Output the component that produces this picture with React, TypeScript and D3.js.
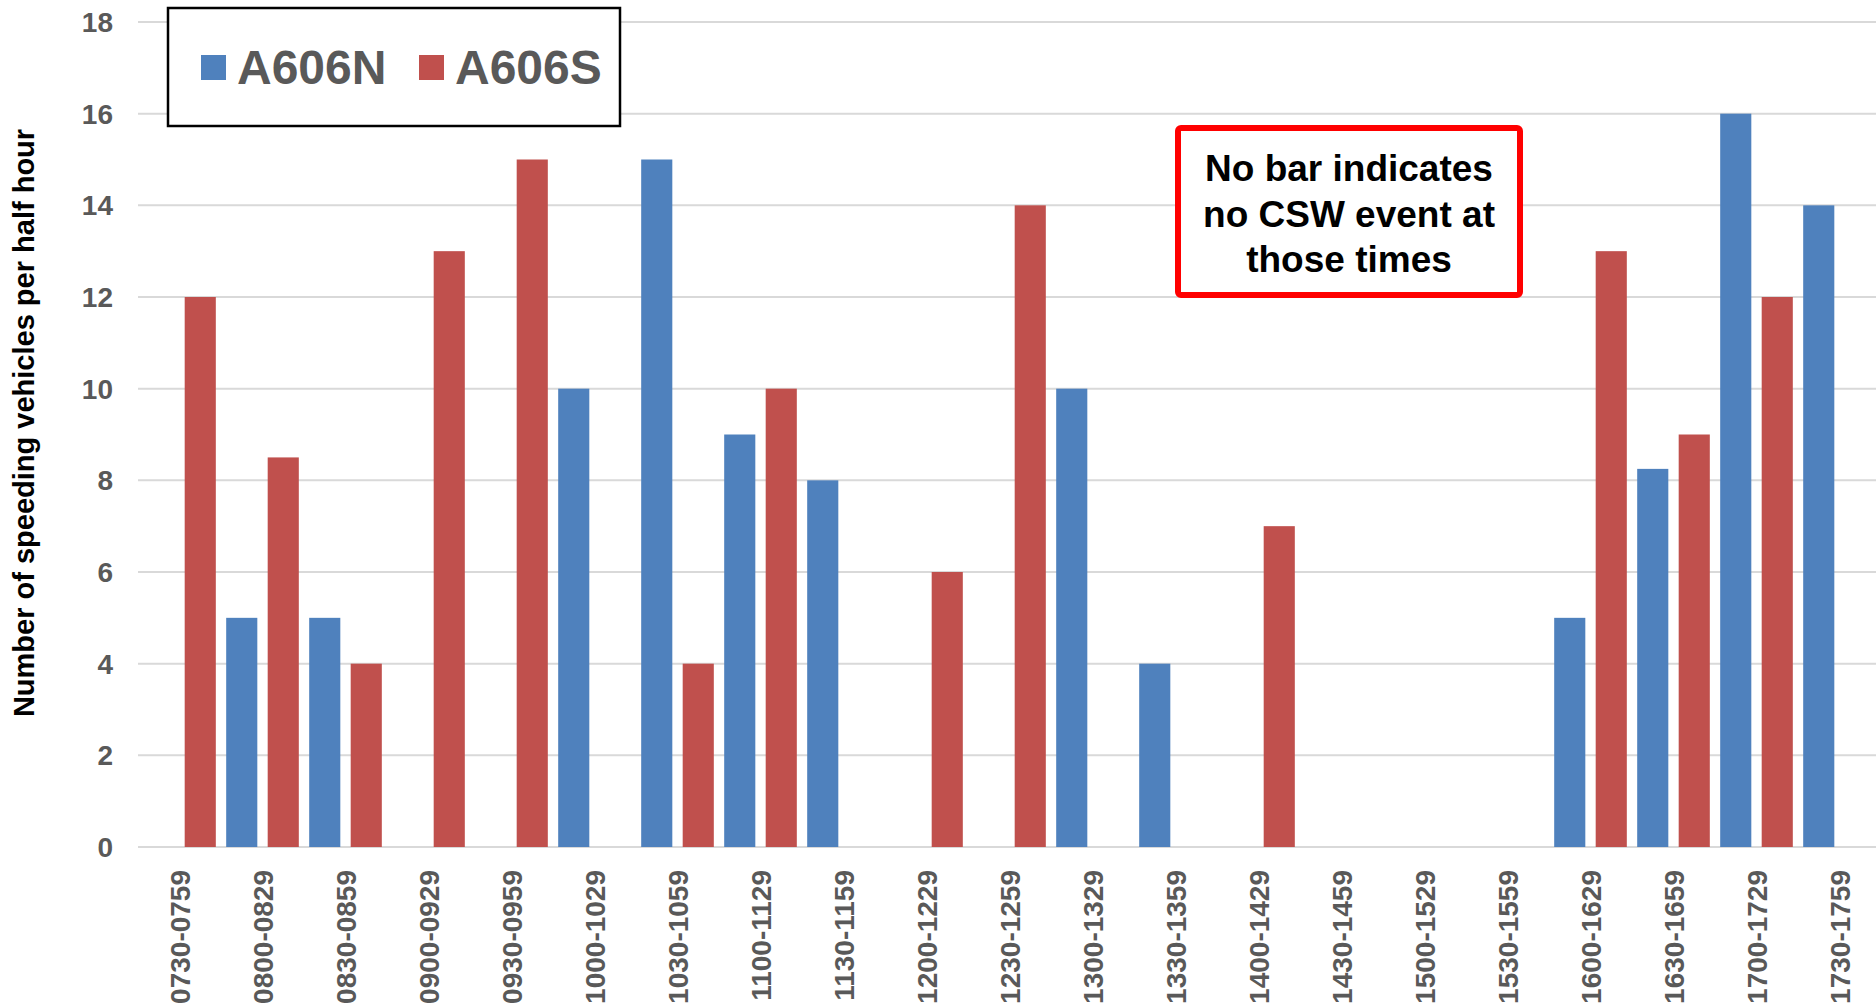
import React from "react";
import * as d3 from "d3";

const categories = [
  "0730-0759", "0800-0829", "0830-0859", "0900-0929", "0930-0959",
  "1000-1029", "1030-1059", "1100-1129", "1130-1159", "1200-1229",
  "1230-1259", "1300-1329", "1330-1359", "1400-1429", "1430-1459",
  "1500-1529", "1530-1559", "1600-1629", "1630-1659", "1700-1729",
  "1730-1759",
];

// null = no CSW event in that half hour
const a606N: (number | null)[] = [
  null, 5, 5, null, null, 10, 15, 9, 8, null, null, 10, 4, null, null,
  null, null, 5, 8.25, 16, 14,
];
const a606S: (number | null)[] = [
  12, 8.5, 4, 13, 15, null, 4, 10, null, 6, 14, null, null, 7, null,
  null, null, 13, 9, 12, null,
];

const seriesNames = ["A606N", "A606S"];
const seriesColors = ["#4f81bd", "#c0504d"];
const yTicks = [0, 2, 4, 6, 8, 10, 12, 14, 16, 18];
const noteLines = ["No bar indicates", "no CSW event at", "those times"];

const W = 1876;
const H = 1008;
const FONT = "'Liberation Sans', Arial, Helvetica, sans-serif";

export default function App() {
  const x0 = d3.scaleBand<string>().domain(categories).range([138, 1881]).padding(0);
  const x1 = d3
    .scaleBand<string>()
    .domain(seriesNames)
    .range([0, x0.bandwidth()])
    .paddingInner(0.25)
    .paddingOuter(0.125);
  const y = d3.scaleLinear().domain([0, 18]).range([847, 22]);

  const series = [a606N, a606S];

  return (
    <svg
      width={W}
      height={H}
      style={{ position: "absolute", left: 0, top: 0, background: "#fff" }}
      fontFamily={FONT}
    >
      <rect x={0} y={0} width={W} height={H} fill="#fff" />

      {/* horizontal gridlines */}
      {yTicks.map((t) => (
        <line
          key={`g${t}`}
          x1={138}
          x2={W}
          y1={y(t)}
          y2={y(t)}
          stroke="#d9d9d9"
          strokeWidth={2}
        />
      ))}

      {/* y tick labels */}
      {yTicks.map((t) => (
        <text
          key={`yt${t}`}
          x={113}
          y={y(t)}
          dy="0.36em"
          textAnchor="end"
          fontSize={28}
          fontWeight="bold"
          fill="#595959"
        >
          {t}
        </text>
      ))}

      {/* bars */}
      {categories.map((c, i) => (
        <g key={c} transform={`translate(${x0(c)},0)`}>
          {series.map((s, k) => {
            const v = s[i];
            if (v == null) return null;
            return (
              <rect
                key={seriesNames[k]}
                x={x1(seriesNames[k])}
                y={y(v)}
                width={x1.bandwidth()}
                height={y(0) - y(v)}
                fill={seriesColors[k]}
              />
            );
          })}
        </g>
      ))}

      {/* x tick labels */}
      {categories.map((c) => {
        const cx = (x0(c) as number) + x0.bandwidth() / 2;
        return (
          <text
            key={`xt${c}`}
            transform={`translate(${cx},870) rotate(-90)`}
            dy="0.36em"
            textAnchor="end"
            fontSize={28}
            fontWeight="bold"
            fill="#595959"
          >
            {c}
          </text>
        );
      })}

      {/* y axis title */}
      <text
        transform="translate(24,423) rotate(-90)"
        dy="0.36em"
        textAnchor="middle"
        fontSize={29}
        fontWeight="bold"
        fill="#000"
      >
        Number of speeding vehicles per half hour
      </text>

      {/* legend */}
      <g>
        <rect x={168} y={8} width={452} height={118} fill="#fff" stroke="#000" strokeWidth={2.5} />
        <rect x={201} y={55} width={25} height={25} fill={seriesColors[0]} />
        <text x={237} y={84} fontSize={48} fontWeight="bold" fill="#595959">
          {seriesNames[0]}
        </text>
        <rect x={419} y={55} width={25} height={25} fill={seriesColors[1]} />
        <text x={455} y={84} fontSize={48} fontWeight="bold" fill="#595959">
          {seriesNames[1]}
        </text>
      </g>

      {/* note box */}
      <g>
        <rect
          x={1178}
          y={128}
          width={342}
          height={167}
          rx={3}
          fill="#fff"
          stroke="#ff0000"
          strokeWidth={6}
        />
        {noteLines.map((l, i) => (
          <text
            key={l}
            x={1349}
            y={181 + i * 45.5}
            textAnchor="middle"
            fontSize={37}
            fontWeight="bold"
            fill="#000"
          >
            {l}
          </text>
        ))}
      </g>
    </svg>
  );
}
